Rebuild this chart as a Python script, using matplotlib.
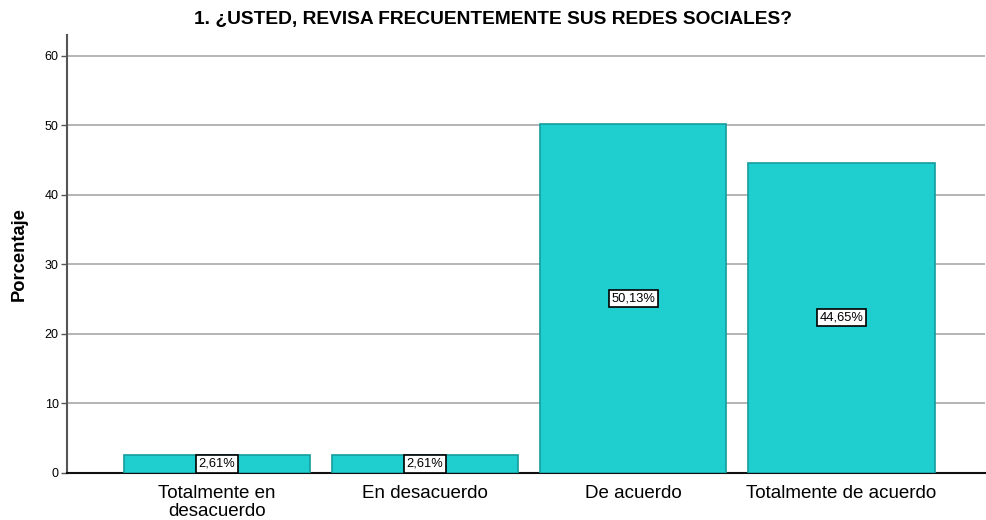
import matplotlib
matplotlib.use("Agg")
import matplotlib.pyplot as plt

plt.rcParams['font.family'] = ['Liberation Sans', 'DejaVu Sans']

categories = ["Totalmente en\ndesacuerdo", "En desacuerdo", "De acuerdo", "Totalmente de acuerdo"]
percentages = [2.61, 2.61, 50.13, 44.65]
yticks = [0, 10, 20, 30, 40, 50, 60]

fig = plt.figure(figsize=(9.86, 5.20), dpi=100)
ax = fig.add_axes([0.068, 0.0904, 0.931, 0.8423])

x = list(range(len(categories)))
ax.bar(x, percentages, width=0.895, color="#1fcfcf", edgecolor="#179c9c",
       linewidth=1.2, zorder=3)

for xi, v in zip(x, percentages):
    ax.text(xi, v / 2, f"{v:.2f}".replace(".", ",") + "%", ha="center", va="center",
            fontsize=9.3, zorder=4,
            bbox=dict(boxstyle="square,pad=0.2", facecolor="white",
                      edgecolor="black", linewidth=1.2))

ax.set_xlim(-0.72, 3.69)
ax.set_ylim(0, 63)
ax.set_yticks(yticks)
ax.set_yticklabels([str(t) for t in yticks], fontsize=9)
ax.set_xticks(x)
ax.set_xticklabels(categories, fontsize=13.5, linespacing=1.05)
ax.tick_params(axis="x", length=0, pad=9)
ax.tick_params(axis="y", length=4, width=1, color="#555555", pad=2)

ax.yaxis.grid(True, color="#a8a8a8", linewidth=1.2, zorder=0)
ax.set_axisbelow(True)

for s in ["top", "right"]:
    ax.spines[s].set_visible(False)
ax.spines["left"].set_color("#555555")
ax.spines["left"].set_linewidth(1.5)
ax.spines["bottom"].set_color("#111111")
ax.spines["bottom"].set_linewidth(1.5)

ax.set_ylabel("Porcentaje", fontsize=13.2, fontweight="bold", labelpad=12)
fig.text(0.5, 0.963, "1. ¿USTED, REVISA FRECUENTEMENTE SUS REDES SOCIALES?",
         ha="center", va="center", fontsize=13.8, fontweight="bold")

fig.savefig("out.png", dpi=100)
